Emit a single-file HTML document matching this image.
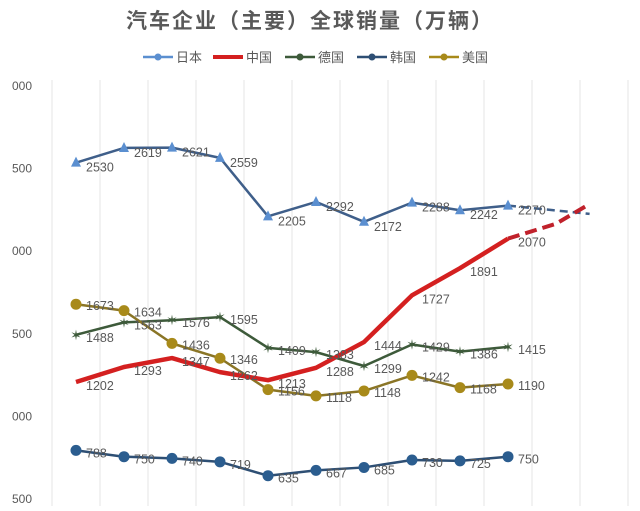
<!DOCTYPE html>
<html><head><meta charset="utf-8"><style>
body{margin:0;background:#fff;width:640px;height:506px;overflow:hidden;font-family:"Liberation Sans","Noto Sans CJK SC",sans-serif}
</style></head><body>
<svg id="c" width="640" height="506" xmlns="http://www.w3.org/2000/svg">
<text x="310" y="28" text-anchor="middle" font-size="21" fill="#595959" font-weight="bold" font-family="Liberation Sans, Noto Sans CJK SC, sans-serif" letter-spacing="2">汽车企业（主要）全球销量（万辆）</text>
<g id="legend"></g>
<g id="grid"></g>
<g id="yaxis"></g>
<g id="series"></g>
</svg>
<script>
const years=[0,1,2,3,4,5,6,7,8,9];
const japan=[2530,2619,2621,2559,2205,2292,2172,2288,2242,2270];
const china=[1202,1293,1347,1262,1213,1288,1444,1727,1891,2070];
const germany=[1488,1563,1576,1595,1409,1383,1299,1429,1386,1415];
const korea=[788,750,740,719,635,667,685,730,725,750];
const usa=[1673,1634,1436,1346,1156,1118,1148,1242,1168,1190];
const japanProj=[2270,2220];
const chinaProj=[2070,2160,2280];
const yTicks=[3000,2500,2000,1500,1000,500];
const yTickLabels=["000","500","000","500","000","500"];
const NS="http://www.w3.org/2000/svg";
function X(i){return 76+i*48;}
function Y(v){return 85+(3000-v)/500*82.6;}
function mk(t,a,p){const e=document.createElementNS(NS,t);for(const k in a)e.setAttribute(k,a[k]);(p||document.getElementById('series')).appendChild(e);return e;}
const grid=document.getElementById('grid');
for(let i=0;i<13;i++){const l=mk('line',{x1:52+i*48,x2:52+i*48,y1:80,y2:506,stroke:'#e4e4e4','stroke-width':1},grid);

}
const ya=document.getElementById('yaxis');
yTicks.forEach((v,i)=>{const t=mk('text',{x:12,y:Y(v)+5,'font-size':12,fill:'#595959'},ya);t.textContent=yTickLabels[i];

});
function line(vals,xs,color,w,dash,name){const pts=vals.map((v,i)=>X(xs[i])+','+Y(v)).join(' ');
const p=mk('polyline',{points:pts,fill:'none',stroke:color,'stroke-width':w,'stroke-dasharray':dash||'none','stroke-linejoin':'round'});

}
function labels(vals,dy,name){vals.forEach((v,i)=>{const t=mk('text',{x:X(i)+10,y:Y(v)+dy,'font-size':12.5,fill:'#595959'});t.textContent=v;

});}
// projections
line(japanProj,[9,10.7],'#3f5f8a',2.5,'8,5','japan-projection');
line(chinaProj,[9,10,10.7],'#c0212b',4,'12,6','china-projection');
line(japan,years,'#3f5f8a',2.5,null,'japan-line');
line(germany,years,'#3d5a3a',2.5,null,'germany-line');
line(usa,years,'#8a7526',2.5,null,'usa-line');
line(korea,years,'#2e4f74',2.5,null,'korea-line');
line(china,years,'#d42020',4.5,null,'china-line');
japan.forEach((v,i)=>{const m=mk('polygon',{points:`${X(i)},${Y(v)-6} ${X(i)-5},${Y(v)+4} ${X(i)+5},${Y(v)+4}`,fill:'#5b8fd0'});

});
germany.forEach((v,i)=>{const m=mk('text',{x:X(i),y:Y(v)+5,'text-anchor':'middle','font-size':14,fill:'#3d5a3a'});m.textContent='✶';

});
usa.forEach((v,i)=>{const m=mk('circle',{cx:X(i),cy:Y(v),r:5.5,fill:'#a88a1a'});

});
korea.forEach((v,i)=>{const m=mk('circle',{cx:X(i),cy:Y(v),r:5.5,fill:'#2b5d8f'});

});
labels(japan,9,'japan-label');labels(china,8,'china-label');labels(germany,7,'germany-label');labels(usa,6,'usa-label');labels(korea,7,'korea-label');
// legend
const lg=document.getElementById('legend');
const leg=[['日本','#5b8fd0',143],['中国','#d42020',213],['德国','#3d5a3a',285],['韩国','#2e4f74',357],['美国','#a88a1a',429]];
leg.forEach(([n,c,x])=>{mk('line',{x1:x,x2:x+30,y1:57,y2:57,stroke:c,'stroke-width':n==='中国'?4:2.5},lg);
mk('circle',{cx:x+15,cy:57,r:n==='中国'?0:3.5,fill:c},lg);
const t=mk('text',{x:x+33,y:62,'font-size':13,fill:'#595959'},lg);t.textContent=n;

});
</script>
</body></html>
